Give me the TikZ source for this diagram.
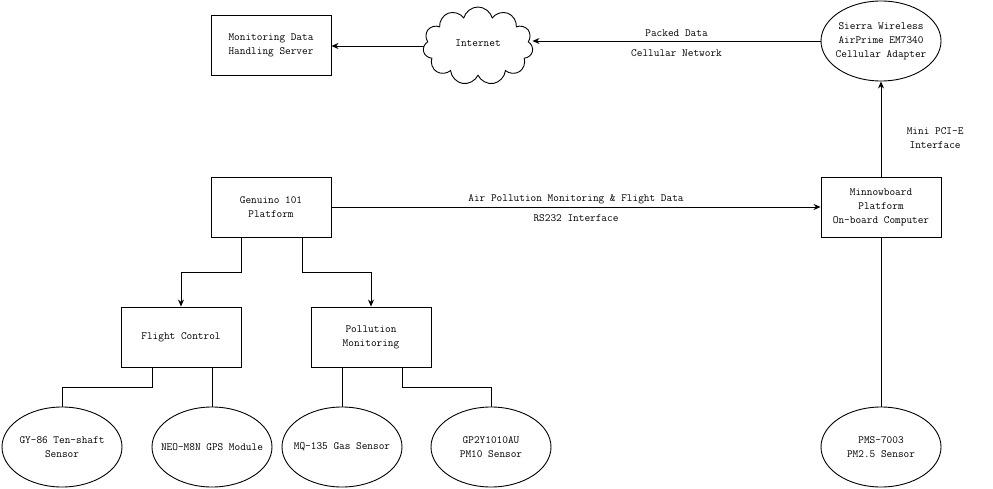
\documentclass[tikz,border=0pt]{standalone}
\usetikzlibrary{shapes.geometric,shapes.symbols,arrows.meta}
\tikzset{
  box/.style={draw, minimum width=120, minimum height=60, align=center},
  oval/.style={draw, ellipse, minimum width=120, minimum height=80, align=center, inner xsep=-12pt, inner ysep=0pt},
}

\begin{document}
\begin{tikzpicture}[x=1pt, y=-1pt, line width=0.9pt, font=\fontsize{11}{14}\ttfamily, >={Stealth[length=7pt,width=6pt]}]
\useasboundingbox (0,0) rectangle (993,489);
\node (srv) at (271,45) [box] {Monitoring Data\\Handling Server};
\node (net) at (478,46) [draw, cloud, cloud puffs=11, aspect=1.5, minimum width=110, minimum height=78, inner sep=0pt] {};
\node at (478,43) {Internet};
\node (sw) at (881,41) [oval] {Sierra Wireless\\AirPrime EM7340\\Cellular Adapter};
\node (gen) at (271,207) [box] {Genuino 101\\Platform};
\node (mb) at (881,207) [box] {Minnowboard\\Platform\\On-board Computer};
\node (fc) at (181,337) [box] {Flight Control};
\node (pm) at (371,337) [box] {Pollution\\Monitoring};
\node (gy) at (62,447) [oval] {GY-86 Ten-shaft\\Sensor};
\node (neo) at (212,447) [oval] {NEO-M8N GPS Module};
\node (mq) at (342,447) [oval] {MQ-135 Gas Sensor};
\node (gp) at (491,447) [oval] {GP2Y1010AU\\PM10 Sensor};
\node (pms) at (881,447) [oval] {PMS-7003\\PM2.5 Sensor};

\draw [->] (net.west) -- (net.west -| srv.east);
\draw [->] (sw.west) -- (sw.west -| net.east) node[midway, above=1pt] {Packed Data} node[midway, below=5pt] {Cellular Network};
\draw [->] (mb.north) -- (sw.south) node[pos=0.4, right=22pt, align=center] {Mini PCI-E\\Interface};
\draw [->] (gen.east) -- (mb.west) node[midway, above=-1pt] {Air Pollution Monitoring \& Flight Data} node[midway, below=4pt] {RS232 Interface};
\draw (mb.south) -- (pms.north);
\draw [->] (gen.south -| fc.east) -- ++(0,35) -| (fc.north);
\draw [->] ([xshift=31]gen.south) -- ++(0,35) -| (pm.north);
\draw ([xshift=-29]fc.south) -- ++(0,20) -| (gy.north);
\draw (fc.south -| neo.north) -- (neo.north);
\draw (pm.south -| mq.north) -- (mq.north);
\draw ([xshift=31]pm.south) -- ++(0,20) -| (gp.north);
\end{tikzpicture}
\end{document}
